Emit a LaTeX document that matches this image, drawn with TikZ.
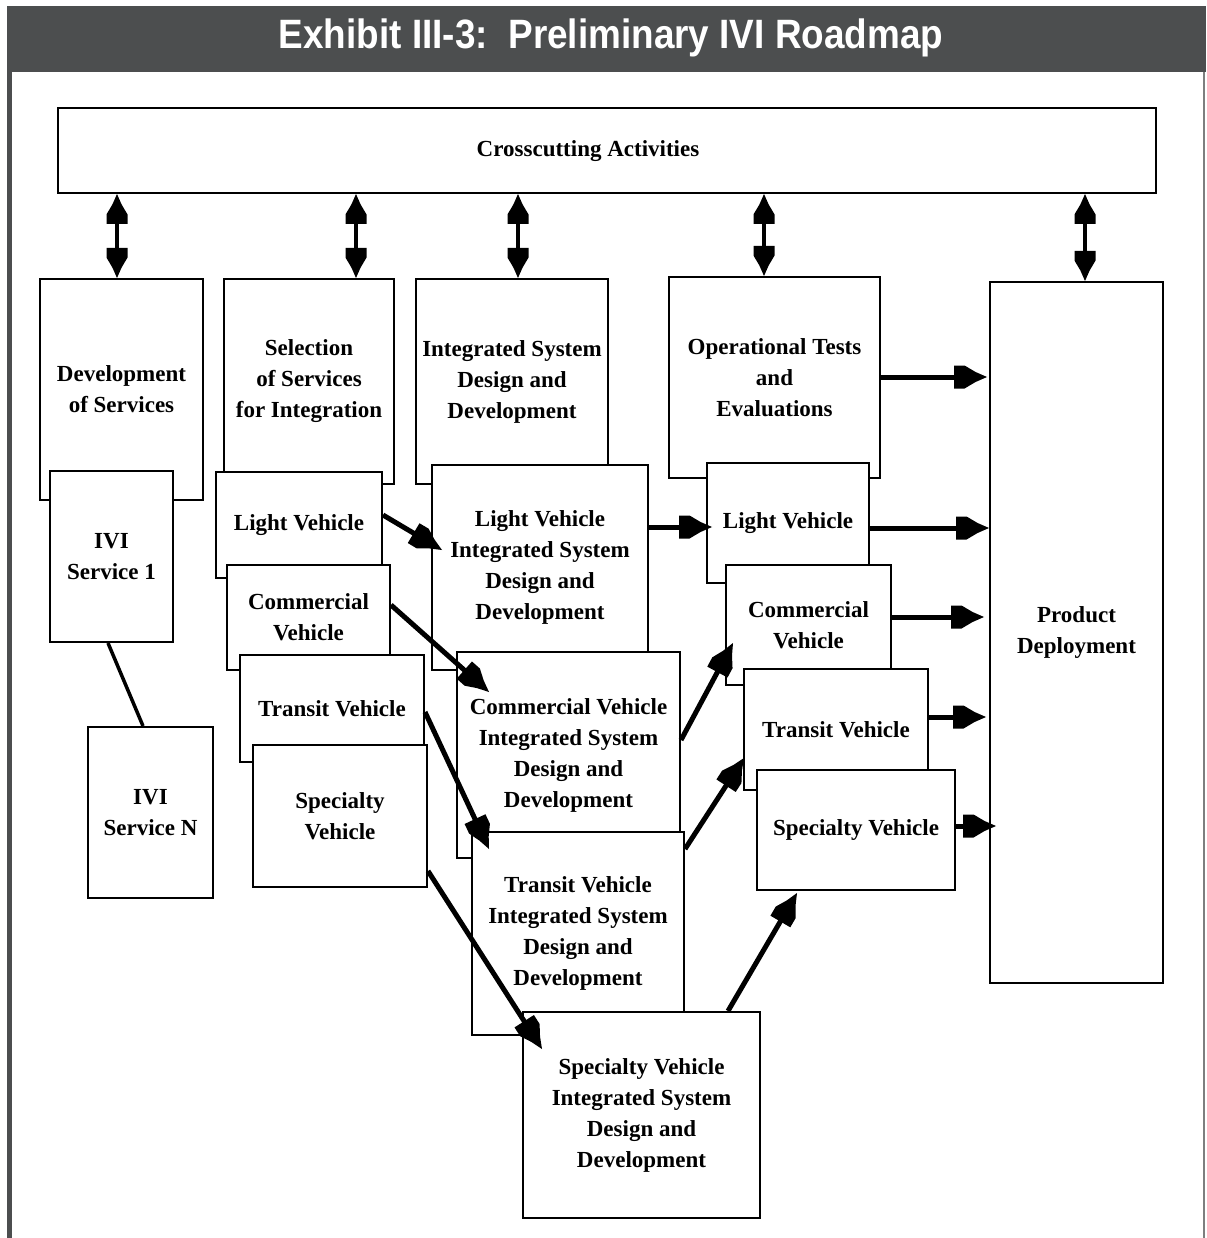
\documentclass[tikz,border=0pt]{standalone}
\usepackage{fontspec}
\setmainfont{Liberation Serif}
\newfontfamily\headfont{Liberation Sans}
\usetikzlibrary{arrows.meta,calc}

\definecolor{barGrey}{RGB}{76,78,79}
\definecolor{edgeGrey}{RGB}{125,127,127}

% filled arrow head with a flat, wide back
\pgfdeclarearrow{
  name = RoadTip,
  parameters = {\the\pgfarrowlength,\the\pgfarrowwidth},
  setup code = {
    \pgfarrowssettipend{0pt}
    \pgfarrowssetbackend{-\pgfarrowlength}
    \pgfarrowssetvisualbackend{-\pgfarrowlength}
    \pgfarrowssetlineend{-.5\pgfarrowlength}
    \pgfarrowshullpoint{0pt}{0pt}
    \pgfarrowsupperhullpoint{-\pgfarrowlength}{.5\pgfarrowwidth}
    \pgfarrowssavethe\pgfarrowlength
    \pgfarrowssavethe\pgfarrowwidth
  },
  drawing code = {
    \pgfpathmoveto{\pgfqpoint{0pt}{0pt}}
    \pgfpathlineto{\pgfqpoint{-.35\pgfarrowlength}{.22\pgfarrowwidth}}
    \pgfpathlineto{\pgfqpoint{-.68\pgfarrowlength}{.5\pgfarrowwidth}}
    \pgfpathlineto{\pgfqpoint{-\pgfarrowlength}{.5\pgfarrowwidth}}
    \pgfpathlineto{\pgfqpoint{-\pgfarrowlength}{-.5\pgfarrowwidth}}
    \pgfpathlineto{\pgfqpoint{-.68\pgfarrowlength}{-.5\pgfarrowwidth}}
    \pgfpathlineto{\pgfqpoint{-.35\pgfarrowlength}{-.22\pgfarrowwidth}}
    \pgfpathclose
    \pgfusepathqfill
  },
  defaults = {length = 33pt, width = 23pt}
}

\tikzset{
  stage/.style={draw, fill=white, line width=2pt, inner sep=0pt, align=center,
    font=\fontsize{23}{31}\selectfont\bfseries},
  stagetext/.style={inner sep=0pt, align=center,
    font=\fontsize{23}{31}\selectfont\bfseries},
  flow/.style={line width=5pt, -{RoadTip[length=33pt,width=23pt]}},
  link/.style={line width=4pt,
    {RoadTip[length=30pt,width=21pt]}-{RoadTip[length=30pt,width=21pt]}},
  tie/.style={line width=3.5pt},
}

% box given by its corners: name, x1, y1, x2, y2, text
\newcommand\roadbox[6]{%
  \node[stage, minimum width={(#4)-(#2)}, minimum height={(#5)-(#3)}]
    (#1) at ({((#2)+(#4))/2},{((#3)+(#5))/2}) {#6};}

\begin{document}
\begin{tikzpicture}[x=1pt,y=-1pt]
\useasboundingbox (0,0) rectangle (1206,1238);

% heading bar and frame
\fill[barGrey] (7,6) rectangle (1206,72);
\fill[barGrey] (7,72) rectangle (12,1238);
\draw[edgeGrey, line width=2pt] (1204,72) -- (1204,1238);
\node[text=white, inner sep=0pt] (title) at (611,38)
  {\headfont\bfseries\fontsize{41}{41}\selectfont
   \scalebox{0.9}[1]{Exhibit III-3:\ \ Preliminary IVI Roadmap}};

% crosscutting band
\roadbox{cross}{58}{108}{1156}{193}{}
\node[stagetext] (crossLabel) at (588,151) {Crosscutting Activities};

% services column
\roadbox{dev}{40}{279}{203}{500}{Development\\of Services}
\roadbox{ivi1}{50}{471}{173}{642}{IVI\\Service 1}
\roadbox{iviN}{88}{727}{213}{898}{IVI\\Service N}

% selection column
\roadbox{sel}{224}{279}{394}{484}{Selection\\of Services\\for Integration}
\roadbox{lvL}{216}{472}{382}{578}{Light Vehicle}
\roadbox{cvL}{227}{565}{390}{670}{Commercial\\Vehicle}
\roadbox{tvL}{240}{655}{424}{762}{Transit Vehicle}
\roadbox{svL}{253}{745}{427}{887}{Specialty\\Vehicle}

% integration column
\roadbox{isd}{416}{279}{608}{484}{Integrated System\\Design and\\Development}
\roadbox{lvI}{432}{465}{648}{670}{Light Vehicle\\Integrated System\\Design and\\Development}
\roadbox{cvI}{457}{652}{680}{858}{Commercial Vehicle\\Integrated System\\Design and\\Development}
\roadbox{tvI}{472}{832}{684}{1035}{Transit Vehicle\\Integrated System\\Design and\\Development}
\roadbox{svI}{523}{1012}{760}{1218}{Specialty Vehicle\\Integrated System\\Design and\\Development}

% test column
\roadbox{opt}{669}{277}{880}{478}{Operational Tests\\and\\Evaluations}
\roadbox{lvR}{707}{463}{869}{583}{Light Vehicle}
\roadbox{cvR}{726}{565}{891}{685}{Commercial\\Vehicle}
\roadbox{tvR}{744}{669}{928}{790}{Transit Vehicle}
\roadbox{svR}{757}{770}{955}{890}{Specialty Vehicle}

% deployment
\roadbox{prod}{990}{282}{1163}{983}{Product\\Deployment}

% two-way links to the crosscutting band
\coordinate (upDev) at ([xshift=-4.5pt]dev.north);
\coordinate (upSel) at ([xshift=47pt]sel.north);
\coordinate (upIsd) at ([xshift=6pt]isd.north);
\coordinate (upOpt) at ([xshift=-10.5pt]opt.north);
\coordinate (upProd) at ([xshift=8.5pt]prod.north);
\foreach \c in {upDev,upSel,upIsd,upOpt,upProd}
  \draw[link] (\c |- cross.south) -- (\c);

% service chain
\draw[tie] ([xshift=-3.5pt]ivi1.south) -- ([xshift=-7.5pt]iviN.north);

% selection to integration
\draw[flow] ([yshift=10pt]lvL.east) -- ([xshift=11pt,yshift=17.5pt]lvI.west);
\draw[flow] ([yshift=12.5pt]cvL.east) -- ([xshift=33pt,yshift=-41pt]cvI.north west);
\draw[flow] ([yshift=-3.5pt]tvL.east) -- ([xshift=18pt,yshift=-18pt]tvI.north west);
\draw[flow] ([yshift=17pt]svL.south east) -- ([xshift=20pt,yshift=-38pt]svI.north west);

% integration to tests
\draw[flow] ([yshift=40.5pt]lvI.east) -- ([xshift=6pt,yshift=-4pt]lvR.west);
\draw[flow] ([yshift=15pt]cvI.east) -- ([xshift=8pt,yshift=-18pt]cvR.west);
\draw[flow] ([yshift=-18pt]tvI.north east) -- ([xshift=1pt,yshift=-28.5pt]tvR.west);
\draw[flow] ([xshift=86.5pt]svI.north) -- ([xshift=-59pt,yshift=-2pt]svR.south);

% tests to deployment
\draw[flow] ([yshift=0.5pt]opt.east) -- ([xshift=-2pt,yshift=255.5pt]prod.west);
\draw[flow] ([yshift=-5pt]lvR.east) -- ([yshift=104.5pt]prod.west);
\draw[flow] ([yshift=8pt]cvR.east) -- ([xshift=-5pt,yshift=15.5pt]prod.west);
\draw[flow] ([yshift=12.5pt]tvR.east) -- ([xshift=-3pt,yshift=-84.5pt]prod.west);
\draw[flow] ([yshift=4pt]svR.east) -- ([xshift=7pt,yshift=-193.5pt]prod.west);
\end{tikzpicture}
\end{document}
